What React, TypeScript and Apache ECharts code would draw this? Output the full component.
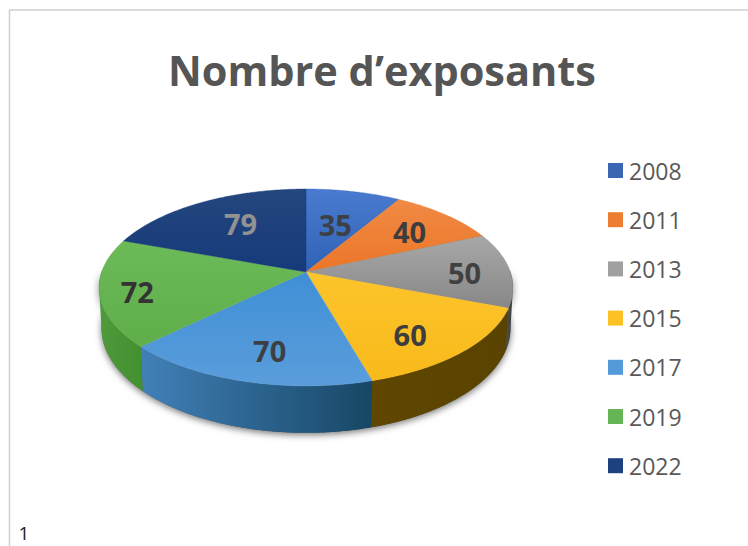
import React, { useEffect, useRef } from "react";
import * as echarts from "echarts";

const years = ["2008", "2011", "2013", "2015", "2017", "2019", "2022"];
const values = [35, 40, 50, 60, 70, 72, 79];
const topColors = [
  ["#4a7bd0", "#2f62b4"],
  ["#f08a44", "#ec7628"],
  ["#a8a8a8", "#878787"],
  ["#fcc52c", "#f9b91a"],
  ["#3f8fd6", "#5a9ddb"],
  ["#6dba58", "#5fae4a"],
  ["#24477f", "#16397a"],
];
const wallColors = [
  ["#2f5597", "#2f5597"],
  ["#8a4a1c", "#8a4a1c"],
  ["#4f4f4f", "#3a3a3a"],
  ["#5f4700", "#5a4300"],
  ["#4180b8", "#174765"],
  ["#4f9a3c", "#43902f"],
  ["#1b3560", "#1b3560"],
];
const legendColors = ["#3a66b4", "#ed7d31", "#a0a0a0", "#fcc125", "#559ad8", "#66b554", "#1d417f"];
const labelColors = ["#3d4047", "#3d3d3d", "#404040", "#3d3d3d", "#3d3f42", "#333333", "#929292"];
const labelNudges = [[-3, 7], [10, -2], [26, 2], [7, 13], [2, 12], [-36, 6], [5, -1]];

const CX = 306;
const CY = 272;
const A = 204.4;
const B = 96;
const K = 0.157;
const DEPTH = 39.6;
const SHRINK = 0.988;
const WALL_FROM = 99;
const WALL_TO = 261;

const total = values.reduce((s, v) => s + v, 0);
const starts: number[] = [];
values.reduce((acc, v, i) => {
  starts[i] = acc;
  return acc + v;
}, 0);
const deg = (v: number) => (v / total) * 360;

function project(theta: number, r = 1): [number, number] {
  const t = (theta * Math.PI) / 180;
  const u = r * Math.sin(t);
  const v = -r * Math.cos(t);
  const w = 1 - K * v;
  return [CX + (A * u) / w, CY + (B * v) / w];
}
function projectBottom(theta: number): [number, number] {
  const t = (theta * Math.PI) / 180;
  const v = -Math.cos(t);
  const w = 1 - K * v;
  const [x, y] = project(theta);
  return [CX + (x - CX) * SHRINK, y + DEPTH / w];
}
function arc(a0: number, a1: number, fn: (d: number) => [number, number]) {
  const pts: [number, number][] = [];
  const n = Math.max(2, Math.ceil(Math.abs(a1 - a0) * 2));
  for (let i = 0; i <= n; i++) pts.push(fn(a0 + ((a1 - a0) * i) / n));
  return pts;
}
const vGrad = (c: string[]) =>
  new echarts.graphic.LinearGradient(0, 0, 0, 1, [
    { offset: 0, color: c[0] },
    { offset: 1, color: c[1] },
  ]);
const hGrad = (c: string[]) =>
  new echarts.graphic.LinearGradient(0, 0, 1, 0, [
    { offset: 0, color: c[0] },
    { offset: 1, color: c[1] },
  ]);

export default function App() {
  const ref = useRef<HTMLDivElement>(null);
  useEffect(() => {
    document.body.style.margin = "0";
    const chart = echarts.init(ref.current!, null, { renderer: "svg" });

    const shadowSeries: any = {
      type: "custom",
      coordinateSystem: "none",
      silent: true,
      data: [[0]],
      renderItem: () => ({
        type: "polygon",
        shape: {
          points: [
            ...arc(WALL_FROM - 10, WALL_TO + 10, (d) => project(d)),
            ...arc(WALL_TO + 10, WALL_FROM - 10, (d) => projectBottom(d)),
          ],
        },
        style: {
          fill: "#555555",
          shadowBlur: 7,
          shadowColor: "rgba(0,0,0,0.55)",
          shadowOffsetX: 0,
          shadowOffsetY: 2,
        },
      }),
    };

    const wallSeries: any[] = values.map((_, i) => ({
      type: "custom",
      coordinateSystem: "none",
      silent: true,
      data: [[values[i]]],
      renderItem: (_p: any, api: any) => {
        const a0 = Math.max(deg(starts[i]), WALL_FROM);
        const a1 = Math.min(deg(starts[i] + api.value(0)), WALL_TO);
        if (a1 <= a0) return { type: "group", children: [] };
        return {
          type: "polygon",
          shape: { points: [...arc(a0, a1, (d) => project(d)), ...arc(a1, a0, (d) => projectBottom(d))] },
          style: { fill: hGrad(wallColors[i]) },
        };
      },
    }));

    const sliceSeries: any[] = years.map((year, i) => ({
      name: year,
      type: "custom",
      coordinateSystem: "none",
      silent: true,
      itemStyle: { color: legendColors[i] },
      data: [[values[i]]],
      renderItem: (_p: any, api: any) => {
        const a0 = deg(starts[i]);
        const a1 = deg(starts[i] + api.value(0));
        const fill = vGrad(topColors[i]);
        return {
          type: "polygon",
          shape: { points: [[CX, CY], ...arc(a0, a1, (d) => project(d))] },
          style: { fill, stroke: topColors[i][1], lineWidth: 0.4 },
        };
      },
    }));

    const labelSeries: any = {
      type: "custom",
      coordinateSystem: "none",
      silent: true,
      data: values.map((v) => [v]),
      renderItem: (p: any, api: any) => {
        const i = p.dataIndex;
        const mid = deg(starts[i] + api.value(0) / 2);
        const [x, y] = project(mid, 0.65);
        return {
          type: "text",
          style: {
            text: String(api.value(0)),
            x: x + labelNudges[i][0],
            y: y + labelNudges[i][1],
            fill: labelColors[i],
            font: '700 29px "Open Sans"',
            align: "center",
            verticalAlign: "middle",
          },
        };
      },
    };

    chart.setOption({
      animation: false,
      backgroundColor: "#ffffff",
      title: {
        text: "Nombre d\u2019exposants",
        left: 377,
        top: 44,
        textAlign: "center",
        textStyle: { fontFamily: "Open Sans", fontWeight: 700, fontSize: 41.5, color: "#555555" },
      },
      legend: {
        orient: "vertical",
        left: 608,
        top: 156,
        padding: 0,
        data: years,
        icon: "rect",
        itemWidth: 15,
        itemHeight: 15,
        itemGap: 20.2,
        selectedMode: false,
        textStyle: {
          fontFamily: "Open Sans",
          fontSize: 23,
          color: "#595959",
          lineHeight: 29,
          padding: [0, 0, 0, 1],
        },
      },
      graphic: [
        { type: "line", silent: true, shape: { x1: 9.5, y1: 10, x2: 9.5, y2: 546 }, style: { stroke: "#cfcfcf", lineWidth: 1.5 } },
        { type: "line", silent: true, shape: { x1: 9, y1: 10, x2: 748, y2: 10 }, style: { stroke: "#cfcfcf", lineWidth: 1.5 } },
        {
          type: "text",
          silent: true,
          style: { text: "1", x: 24, y: 533, fill: "#222222", font: '500 19px "Open Sans"', align: "center", verticalAlign: "middle" },
        },
      ],
      series: [shadowSeries, ...wallSeries, ...sliceSeries, labelSeries],
    });
    return () => chart.dispose();
  }, []);
  return <div ref={ref} style={{ width: 748, height: 546 }} />;
}
